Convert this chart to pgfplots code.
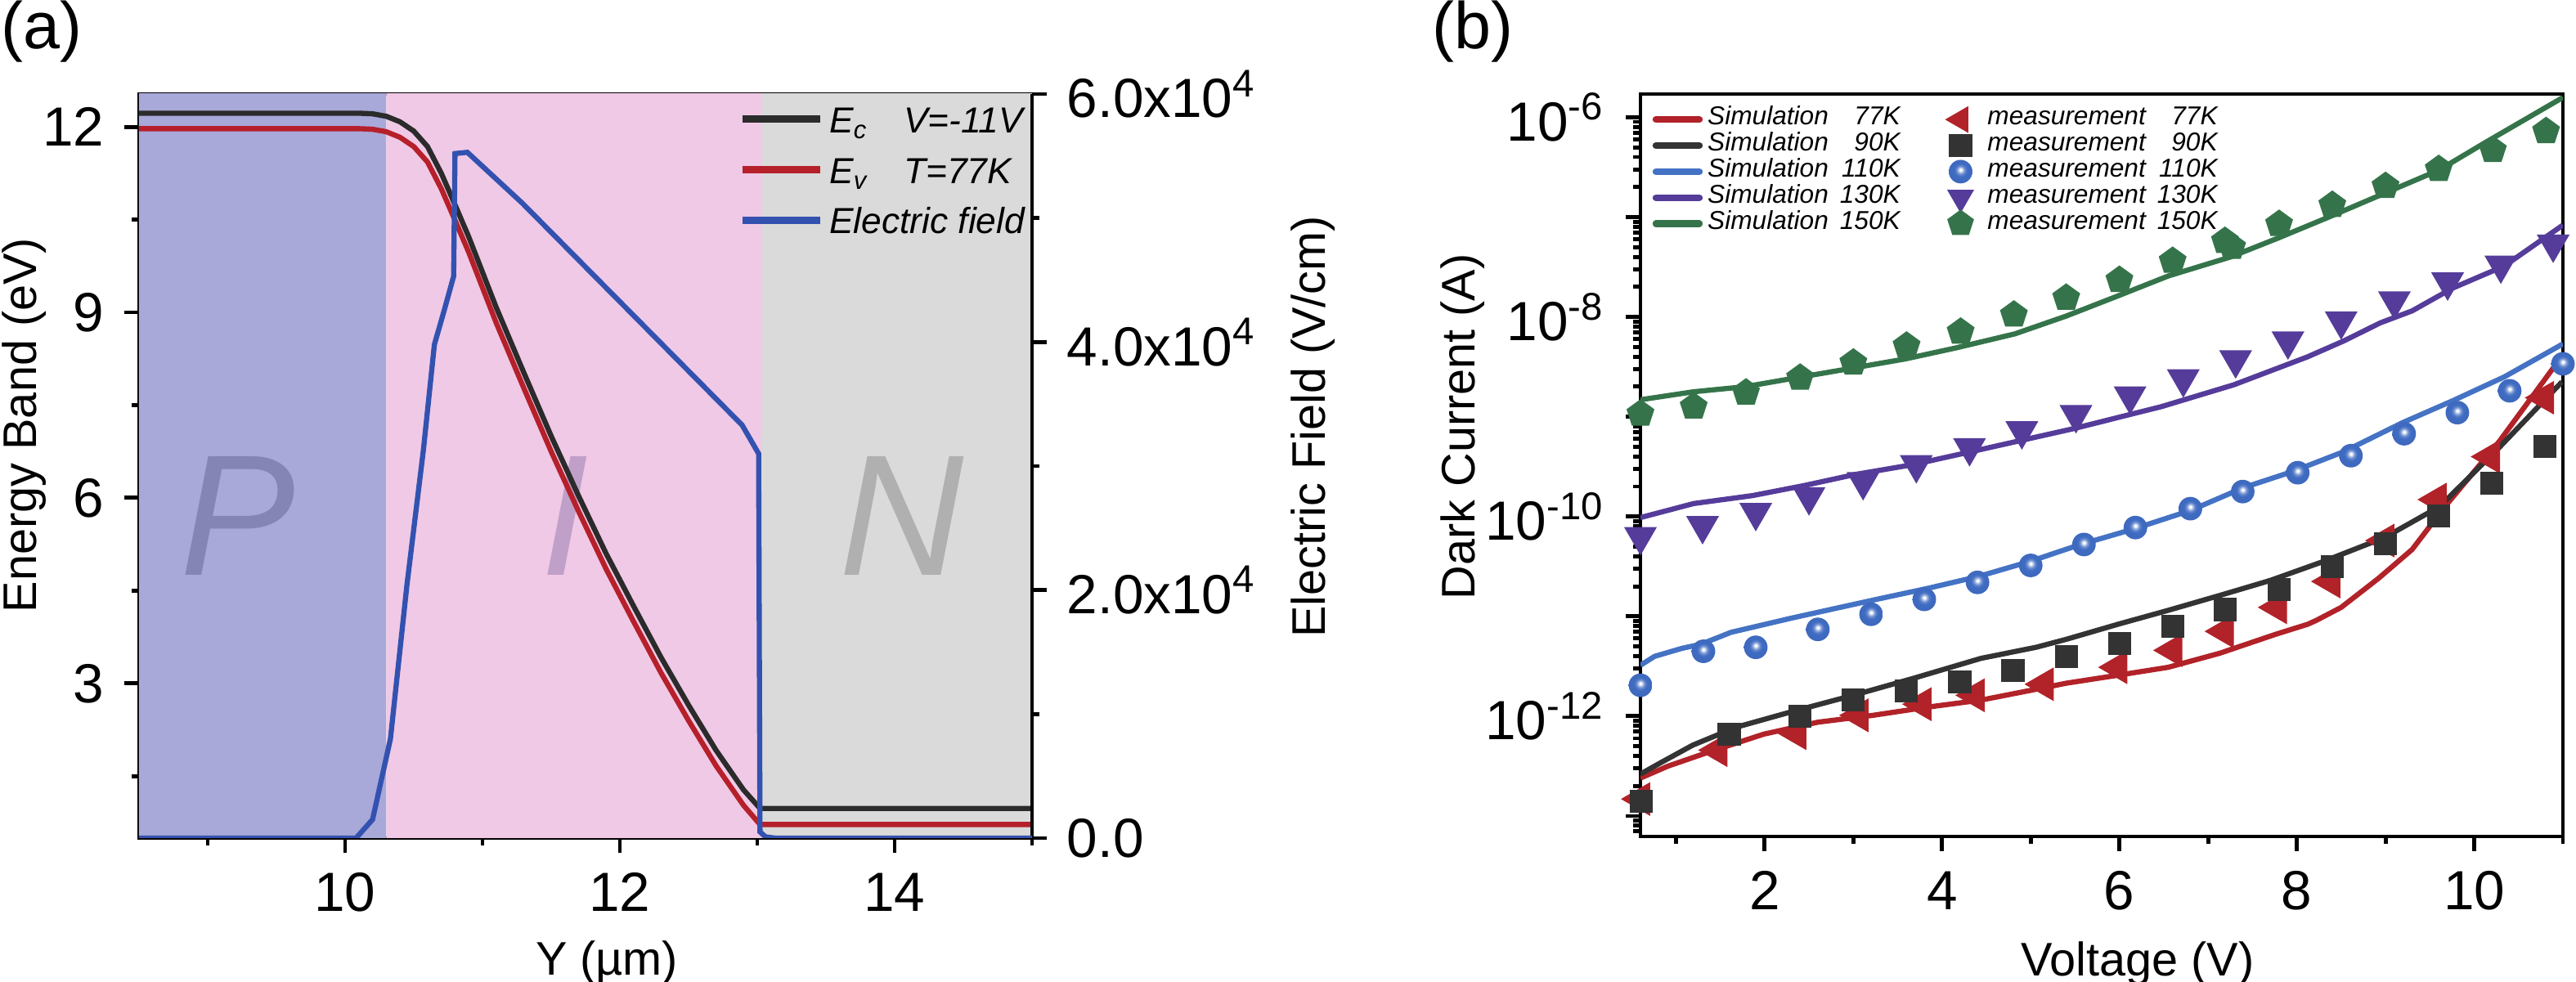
\documentclass[border=0pt]{standalone}
\usepackage{fontspec}
\setmainfont{Liberation Sans}
\usepackage{pgfplots}
\pgfplotsset{compat=1.18}
\usetikzlibrary{plotmarks}

\definecolor{bgP}{HTML}{A8A8D9}
\definecolor{bgI}{HTML}{F0C9E6}
\definecolor{bgN}{HTML}{DADADA}
\definecolor{txP}{HTML}{8585B5}
\definecolor{txI}{HTML}{C0A0C8}
\definecolor{txN}{HTML}{B0B0B0}
\definecolor{cEc}{HTML}{2B2B2B}
\definecolor{cEv}{HTML}{B5202A}
\definecolor{cEF}{HTML}{3352B0}
\definecolor{cR}{HTML}{B22229}
\definecolor{cK}{HTML}{333333}
\definecolor{cB}{HTML}{4472C4}
\definecolor{cBm}{HTML}{3F6BC2}
\definecolor{cP}{HTML}{553C9A}
\definecolor{cG}{HTML}{35744A}

\pgfdeclareradialshading{sphereshade}{\pgfpoint{0bp}{4bp}}{color(0bp)=(white); color(2bp)=(white); color(5bp)=(cBm!40!white); color(9bp)=(cBm!80!white); color(14bp)=(cBm); color(50bp)=(cBm!92!black)}
\pgfdeclareplotmark{sphere}{\pgfpathcircle{\pgfpointorigin}{\pgfplotmarksize}\pgfshadepath{sphereshade}{0}\pgfusepath{}}

\newcommand{\tickfont}{\fontsize{9.6}{11}\selectfont}
\newcommand{\labfont}{\fontsize{8.2}{10}\selectfont}
\newcommand{\sa}{\rule[-1.42pt]{0pt}{7.5pt}}
\newcommand{\sbb}{\rule[-0.87pt]{0pt}{4.27pt}}

\pgfplotsset{
  common/.style={
    scale only axis,
    axis line style={line width=0.7pt},
    tick style={line width=0.7pt, black},
    tick align=outside,
    major tick length=0.09cm,
    minor tick length=0.045cm,
    tick label style={font=\tickfont},
    label style={font=\labfont},
    /pgf/number format/assume math mode=true,
  },
  simimg/.style={legend image code/.code={\path[draw=none, fill=none] (0cm,0cm) -- (0.325cm,0cm); \draw[##1, line width=1.2pt, line cap=round] (0.03cm,0cm) -- (0.295cm,0cm);}},
  measimg/.style={legend image code/.code={\path[draw=none, fill=none] (0cm,0cm) -- (0.325cm,0cm); \draw[##1, mark size=#1] plot coordinates {(0.16cm,0cm)};}},
}

\begin{document}
\begin{tikzpicture}
\path[use as bounding box] (0,0) rectangle (15.75,6.005);
\node[anchor=north west, inner sep=0pt, font=\fontsize{11.5}{12}\selectfont] at (0,6.005) {(a)};
\node[anchor=north west, inner sep=0pt, font=\fontsize{11.5}{12}\selectfont] at (8.75,6.005) {(b)};

% ---------------- panel (a), left axis ----------------
\begin{axis}[common,
  at={(0.85cm,0.88cm)}, anchor=south west, width=5.46cm, height=4.55cm,
  xmin=8.5, xmax=15, ymin=0.5, ymax=12.53,
  xtick={10,12,14}, minor xtick={9,11,13,15},
  ytick={3,6,9,12}, minor ytick={1.5,4.5,7.5,10.5},
  xtick pos=lower, ytick pos=left,
  xlabel={Y (µm)}, ylabel={Energy Band (eV)},
  xlabel style={at={(axis description cs:0.524,-0.168)}, anchor=center, inner sep=0pt},
  ylabel style={at={(axis description cs:-0.129,0.555)}, anchor=center, inner sep=0pt},
  legend style={at={(axis description cs:0.672,0.995)}, anchor=north west, draw=none, fill=none,
    inner sep=0pt, outer sep=0pt, column sep=0pt, row sep=1.3pt,
    font=\fontsize{6.3}{7}\selectfont\itshape,
    nodes={inner sep=0pt, text depth=1.42pt}},
  legend cell align=left,
  legend image code/.code={\draw[#1, line width=1.3pt] (0cm,0cm) -- (0.475cm,0cm); \path[draw=none, fill=none] (0cm,0cm) -- (0.53cm,0cm);},
]
\addplot[draw=none, fill=bgP, forget plot] coordinates {(8.5,0) (8.5,13) (10.3,13) (10.3,0)} \closedcycle;
\addplot[draw=none, fill=bgI, forget plot] coordinates {(10.3,0) (10.3,13) (13.03,13) (13.03,0)} \closedcycle;
\addplot[draw=none, fill=bgN, forget plot] coordinates {(13.03,0) (13.03,13) (15,13) (15,0)} \closedcycle;
\node[font=\fontsize{30}{30}\selectfont\itshape, text=txP, anchor=base, inner sep=0pt] at (axis cs:9.22,4.745) {P};
\node[font=\fontsize{30}{30}\selectfont\itshape, text=txI, anchor=base, inner sep=0pt] at (axis cs:11.60,4.745) {I};
\node[font=\fontsize{30}{30}\selectfont\itshape, text=txN, anchor=base, inner sep=0pt] at (axis cs:14.05,4.745) {N};
\addplot[cEc, line width=0.9pt] coordinates {
 (8.5,12.22) (10.10,12.22) (10.20,12.21) (10.30,12.17) (10.40,12.08) (10.50,11.93)
 (10.60,11.68) (10.70,11.25) (10.80,10.74) (10.90,10.22) (11.10,9.08) (11.30,8.03)
 (11.50,7.00) (11.70,6.03) (11.90,5.10) (12.10,4.25) (12.30,3.42) (12.50,2.65)
 (12.70,1.92) (12.90,1.28) (13.02,0.98) (15,0.98)};
\addlegendentry{\sa E\textsubscript{c}\hspace{6pt}V=-11V}
\addplot[cEv, line width=0.9pt] coordinates {
 (8.5,11.97) (10.10,11.97) (10.20,11.96) (10.30,11.92) (10.40,11.83) (10.50,11.68)
 (10.60,11.43) (10.70,11.00) (10.80,10.49) (10.90,9.97) (11.10,8.83) (11.30,7.78)
 (11.50,6.75) (11.70,5.78) (11.90,4.85) (12.10,4.00) (12.30,3.17) (12.50,2.40)
 (12.70,1.67) (12.90,1.03) (13.02,0.72) (15,0.72)};
\addlegendentry{\sa E\textsubscript{v}\hspace{6pt}T=77K}
\addlegendimage{cEF, line width=0.9pt}
\addlegendentry{\sa Electric field}
\end{axis}

% ---------------- panel (a), right axis ----------------
\begin{axis}[common,
  at={(0.85cm,0.88cm)}, anchor=south west, width=5.46cm, height=4.55cm,
  xmin=8.5, xmax=15, ymin=0, ymax=60000,
  axis x line=none, axis y line*=right,
  ytick={0,20000,40000,60000}, minor ytick={10000,30000,50000},
  yticklabels={{0.0},{2.0x10\textsuperscript{4}},{4.0x10\textsuperscript{4}},{6.0x10\textsuperscript{4}}},
  scaled y ticks=false,
  ylabel={Electric Field (V/cm)},
  ylabel style={at={(axis description cs:1.315,0.553)}, anchor=center, inner sep=0pt},
]
\addplot[cEF, line width=0.9pt] coordinates {
 (8.5,0) (10.08,0) (10.20,1500) (10.33,8000) (10.45,20400) (10.57,31300) (10.65,39800)
 (10.72,42500) (10.79,45300) (10.80,55200) (10.89,55300) (11.29,51200) (12.89,33300)
 (13.01,31000) (13.02,500) (13.06,100) (13.13,0) (15,0)};
\end{axis}

% ---------------- panel (b) ----------------
\begin{axis}[common,
  at={(10.03cm,0.89cm)}, anchor=south west, width=5.64cm, height=4.54cm,
  xmin=0.6, xmax=11, ymode=log, ymin=6.24e-14, ymax=1.71e-6,
  xtick={2,4,6,8,10}, minor xtick={1,3,5,7,9,11},
  ytick={1e-13,1e-12,1e-11,1e-10,1e-9,1e-8,1e-7,1e-6},
  yticklabels={{},{10\textsuperscript{-12}},{},{10\textsuperscript{-10}},{},{10\textsuperscript{-8}},{},{10\textsuperscript{-6}}},
  minor ytick={7e-14,8e-14,9e-14,
   2e-13,3e-13,4e-13,5e-13,6e-13,7e-13,8e-13,9e-13,
   2e-12,3e-12,4e-12,5e-12,6e-12,7e-12,8e-12,9e-12,
   2e-11,3e-11,4e-11,5e-11,6e-11,7e-11,8e-11,9e-11,
   2e-10,3e-10,4e-10,5e-10,6e-10,7e-10,8e-10,9e-10,
   2e-9,3e-9,4e-9,5e-9,6e-9,7e-9,8e-9,9e-9,
   2e-8,3e-8,4e-8,5e-8,6e-8,7e-8,8e-8,9e-8,
   2e-7,3e-7,4e-7,5e-7,6e-7,7e-7,8e-7,9e-7},
  xtick pos=lower, ytick pos=left,
  clip mode=individual,
  xlabel={Voltage (V)}, ylabel={Dark Current (A)},
  xlabel style={at={(axis description cs:0.539,-0.171)}, anchor=center, inner sep=0pt},
  ylabel style={at={(axis description cs:-0.193,0.552)}, anchor=center, inner sep=0pt},
  legend columns=5, transpose legend,
  legend style={at={(axis description cs:0.0115,0.9846)}, anchor=north west, draw=none, fill=none,
    inner sep=0pt, outer sep=0pt, column sep=0pt, row sep=-0.37pt,
    font=\fontsize{4.5}{5}\selectfont\itshape,
    nodes={inner sep=0pt}},
  legend cell align=left,
]
% simulation curves
\addplot[cR, line width=0.9pt, simimg] coordinates {
 (0.6,2.40e-13) (0.91,3.16e-13) (1.37,4.37e-13) (1.99,6.61e-13) (2.60,8.71e-13) (3.22,1.02e-12)
 (3.83,1.23e-12) (4.44,1.45e-12) (5.06,1.86e-12) (5.40,2.14e-12) (5.98,2.57e-12) (6.55,3.09e-12)
 (7.13,4.27e-12) (7.76,6.61e-12) (8.12,8.32e-12) (8.22,9.12e-12) (8.50,1.23e-11) (8.92,2.40e-11)
 (9.30,4.68e-11) (9.67,1.26e-10) (10.28,5.62e-10) (10.90,3.16e-9)};
\addlegendentry{\sbb\makebox[1.4075cm][l]{\hspace{0.6pt}Simulation\makebox[12.5pt][r]{77K}}}
\addplot[cK, line width=0.9pt, simimg] coordinates {
 (0.6,2.63e-13) (0.82,3.39e-13) (1.19,5.13e-13) (1.68,7.76e-13) (2.29,1.10e-12) (3.0,1.62e-12)
 (3.68,2.40e-12) (4.44,3.80e-12) (5.06,4.90e-12) (5.40,5.89e-12) (5.98,8.32e-12) (6.55,1.15e-11)
 (7.13,1.62e-11) (7.70,2.29e-11) (8.30,3.55e-11) (8.99,6.17e-11) (9.61,1.26e-10) (10.28,4.90e-10)
 (10.99,2.24e-9)};
\addlegendentry{\sbb\makebox[1.4075cm][l]{\hspace{0.6pt}Simulation\makebox[12.5pt][r]{90K}}}
\addplot[cB, line width=0.9pt, simimg] coordinates {
 (0.6,3.24e-12) (0.76,3.98e-12) (1.07,4.79e-12) (1.28,5.25e-12) (1.62,6.92e-12) (2.29,9.55e-12)
 (2.85,1.23e-11) (3.26,1.48e-11) (3.84,1.91e-11) (4.41,2.51e-11) (4.99,3.55e-11) (5.56,5.25e-11)
 (6.14,7.41e-11) (6.80,1.15e-10) (7.40,1.95e-10) (7.95,2.82e-10) (8.53,4.47e-10) (9.19,8.71e-10)
 (9.76,1.45e-9) (10.34,2.51e-9) (11.0,5.37e-9)};
\addlegendentry{\sbb\makebox[1.4075cm][l]{\hspace{0.6pt}Simulation\makebox[12.5pt][r]{110K}}}
\addplot[cP, line width=0.9pt, simimg] coordinates {
 (0.6,9.77e-11) (1.2,1.35e-10) (1.86,1.62e-10) (2.44,2.04e-10) (3.01,2.63e-10) (3.67,3.31e-10)
 (4.33,4.47e-10) (5.48,7.59e-10) (6.47,1.26e-9) (7.29,2.09e-9) (8.12,3.98e-9) (8.53,5.75e-9)
 (8.94,8.71e-9) (9.30,1.15e-8) (9.76,1.95e-8) (10.34,3.24e-8) (11.0,8.32e-8)};
\addlegendentry{\sbb\makebox[1.4075cm][l]{\hspace{0.6pt}Simulation\makebox[12.5pt][r]{130K}}}
\addplot[cG, line width=0.9pt, simimg] coordinates {
 (0.6,1.48e-9) (1.2,1.78e-9) (1.78,2.00e-9) (2.35,2.45e-9) (3.01,3.09e-9) (3.59,3.80e-9)
 (4.16,4.90e-9) (4.82,6.76e-9) (5.40,1.02e-8) (5.98,1.62e-8) (6.55,2.57e-8) (7.25,3.98e-8)
 (7.79,6.17e-8) (8.36,1.00e-7) (9.02,1.78e-7) (9.60,2.95e-7) (10.13,5.62e-7) (11.0,1.58e-6)};
\addlegendentry{\sbb\makebox[1.4075cm][l]{\hspace{0.6pt}Simulation\makebox[12.5pt][r]{150K}}}
% measurements
\addplot[only marks, cR, mark=triangle*, mark size=3pt, mark options={rotate=90}, measimg=2.3pt] coordinates {
 (0.6,1.48e-13) (1.47,4.57e-13) (2.36,6.76e-13) (3.06,1.02e-12) (3.77,1.32e-12) (4.37,1.62e-12)
 (5.15,2.09e-12) (5.98,3.09e-12) (6.60,4.57e-12) (7.18,7.08e-12) (7.78,1.23e-11) (8.38,2.24e-11)
 (8.99,5.75e-11) (9.58,1.48e-10) (10.18,3.98e-10) (10.79,1.55e-9)};
\addlegendentry{\sbb measurement\makebox[12.5pt][r]{77K}}
\addplot[only marks, cK, mark=square*, mark size=1.8pt, measimg=1.8pt] coordinates {
 (0.61,1.41e-13) (1.60,6.61e-13) (2.40,1.00e-12) (3.0,1.45e-12) (3.60,1.78e-12) (4.20,2.19e-12)
 (4.80,2.88e-12) (5.40,3.98e-12) (6.0,5.37e-12) (6.60,7.94e-12) (7.19,1.17e-11) (7.80,1.86e-11)
 (8.40,3.16e-11) (9.0,5.37e-11) (9.60,1.02e-10) (10.20,2.14e-10) (10.80,5.01e-10)};
\addlegendentry{\sbb measurement\makebox[12.5pt][r]{90K}}
\addplot[only marks, cB, mark=sphere, mark size=2.05pt, measimg=2.05pt] coordinates {
 (0.6,2.04e-12) (1.31,4.47e-12) (1.90,4.90e-12) (2.60,7.41e-12) (3.20,1.05e-11) (3.80,1.48e-11)
 (4.40,2.19e-11) (5.00,3.24e-11) (5.60,5.25e-11) (6.18,7.76e-11) (6.80,1.20e-10) (7.39,1.78e-10)
 (8.01,2.75e-10) (8.61,4.07e-10) (9.21,6.76e-10) (9.81,1.10e-9) (10.40,1.82e-9) (11.0,3.39e-9)};
\addlegendentry{\sbb measurement\makebox[12.5pt][r]{110K}}
\addplot[only marks, cP, mark=triangle*, mark size=2.9pt, mark options={rotate=180}, measimg=2.3pt] coordinates {
 (0.6,6.31e-11) (1.30,8.13e-11) (1.90,1.10e-10) (2.50,1.58e-10) (3.11,2.24e-10) (3.71,3.31e-10)
 (4.31,4.90e-10) (4.90,7.24e-10) (5.51,1.05e-9) (6.12,1.62e-9) (6.72,2.40e-9) (7.31,3.72e-9)
 (7.90,5.75e-9) (8.50,9.12e-9) (9.10,1.45e-8) (9.70,2.24e-8) (10.30,3.31e-8) (10.89,5.37e-8)};
\addlegendentry{\sbb measurement\makebox[12.5pt][r]{130K}}
\addplot[only marks, cG, mark=pentagon*, mark size=2.3pt, measimg=2.2pt] coordinates {
 (0.6,1.07e-9) (1.2,1.26e-9) (1.79,1.74e-9) (2.4,2.45e-9) (3.0,3.47e-9) (3.6,5.13e-9)
 (4.21,7.08e-9) (4.81,1.05e-8) (5.40,1.55e-8) (6.0,2.34e-8) (6.6,3.63e-8) (7.19,5.75e-8)
 (7.27,5.01e-8) (7.8,8.51e-8) (8.40,1.32e-7) (9.0,2.04e-7) (9.6,3.02e-7) (10.21,4.68e-7)
 (10.81,7.24e-7)};
\addlegendentry{\sbb measurement\makebox[12.5pt][r]{150K}}
\end{axis}
\end{tikzpicture}
\end{document}
